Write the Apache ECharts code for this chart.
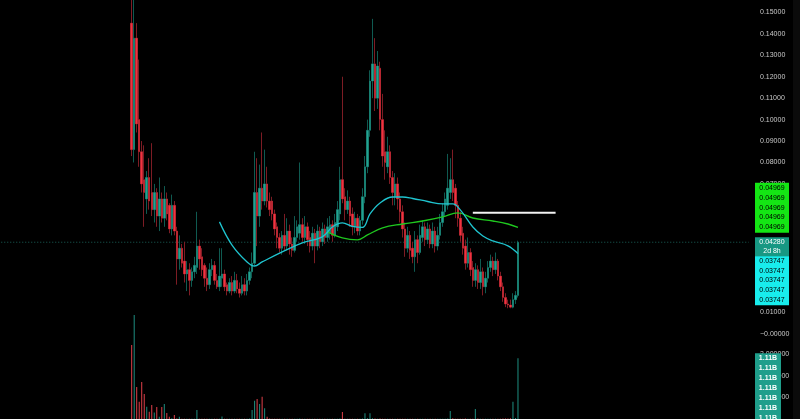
<!DOCTYPE html>
<html><head><meta charset="utf-8">
<script src="https://cdn.jsdelivr.net/npm/echarts@6/dist/echarts.min.js"></script>
<style>html,body{margin:0;padding:0;background:#000;overflow:hidden}#c{width:800px;height:419px;}</style>
</head><body><div id="c"></div>
<script>
// ---- data ----
const candleOpen = [
.145,.086,.138,.100,.085,.072,.063,.073,.066,.058,
.066,.055,.063,.054,.063,.060,.049,.060,.048,.035,
.040,.034,.028,.030,.025,.029,.031,.041,.036,.032,
.026,.023,.030,.032,.025,.022,.026,.028,.023,.020,
.024,.020,.025,.021,.019,.023,.020,.025,.029,.033,
.066,.055,.068,.062,.070,.062,.062,.056,.050,.045,
.040,.046,.041,.048,.042,.039,.045,.047,.051,.045,
.050,.045,.041,.047,.041,.048,.043,.049,.045,.047,
.051,.046,.050,.056,.072,.064,.058,.062,.056,.050,
.054,.048,.053,.064,.078,.095,.118,.126,.110,.124,
.100,.085,.078,.085,.073,.064,.070,.063,.057,.049,
.040,.046,.040,.036,.044,.038,.045,.050,.044,.049,
.042,.048,.041,.046,.052,.057,.060,.066,.072,.068,
.060,.054,.047,.041,.033,.038,.031,.025,.030,.024,
.029,.022,.026,.031,.034,.030,.034,.027,.022,.017,
.014,.0135,.0125,.016,.018];
const candleClose = [
.086,.138,.098,.085,.070,.066,.073,.062,.058,.066,
.055,.063,.054,.063,.056,.049,.060,.048,.035,.040,
.033,.028,.030,.025,.029,.032,.041,.035,.030,.026,
.023,.030,.032,.025,.022,.027,.028,.022,.020,.024,
.020,.025,.021,.019,.023,.020,.025,.029,.033,.066,
.055,.068,.062,.070,.062,.058,.056,.049,.045,.040,
.046,.041,.048,.042,.039,.045,.050,.051,.045,.050,
.044,.041,.047,.041,.048,.043,.049,.045,.050,.051,
.046,.052,.058,.072,.063,.058,.062,.055,.050,.054,
.048,.053,.064,.078,.095,.118,.126,.110,.125,.100,
.083,.080,.085,.073,.066,.070,.063,.057,.049,.040,
.046,.039,.036,.044,.038,.046,.050,.044,.049,.042,
.048,.041,.046,.052,.057,.063,.068,.072,.066,.060,
.054,.046,.040,.033,.038,.030,.025,.030,.024,.029,
.022,.026,.031,.034,.030,.034,.027,.022,.017,.014,
.0135,.0125,.016,.018,.0428];
const candleHigh = [
.158,.160,.145,.128,.090,.088,.076,.082,.089,.070,
.068,.073,.066,.069,.066,.061,.065,.062,.050,.046,
.042,.043,.034,.033,.031,.036,.057,.044,.040,.033,
.031,.033,.035,.034,.028,.040,.040,.030,.024,.026,
.027,.029,.028,.024,.027,.026,.028,.031,.038,.085,
.082,.079,.094,.086,.078,.066,.064,.058,.052,.047,
.048,.056,.054,.051,.045,.055,.053,.080,.054,.055,
.052,.048,.050,.049,.051,.050,.052,.051,.054,.055,
.053,.056,.062,.078,.120,.068,.067,.064,.059,.057,
.056,.055,.068,.083,.100,.123,.147,.138,.132,.127,
.112,.095,.092,.088,.076,.075,.073,.066,.060,.052,
.050,.048,.043,.048,.046,.051,.053,.052,.052,.051,
.052,.050,.050,.056,.061,.066,.084,.082,.086,.070,
.062,.057,.050,.044,.045,.040,.034,.033,.032,.035,
.031,.029,.034,.037,.036,.038,.035,.029,.024,.019,
.016,.016,.019,.020,.0435];
const candleLow = [
.083,.080,.094,.078,.066,.050,.056,.058,.055,.052,
.050,.048,.052,.050,.053,.047,.046,.046,.023,.030,
.031,.024,.020,.018,.022,.026,.028,.030,.027,.022,
.020,.021,.027,.023,.021,.020,.022,.020,.018,.019,
.018,.019,.019,.017,.018,.018,.018,.023,.026,.032,
.041,.050,.058,.060,.059,.055,.053,.046,.040,.038,
.037,.039,.039,.037,.036,.038,.043,.044,.043,.042,
.041,.038,.039,.033,.039,.040,.041,.042,.043,.044,
.043,.045,.048,.053,.061,.053,.056,.050,.046,.047,
.046,.046,.051,.061,.075,.092,.110,.104,.105,.095,
.078,.072,.075,.070,.060,.060,.058,.052,.045,.036,
.038,.035,.033,.029,.033,.037,.043,.041,.042,.040,
.040,.038,.039,.044,.050,.055,.058,.063,.062,.054,
.050,.043,.037,.030,.031,.027,.022,.022,.021,.021,
.018,.019,.024,.029,.027,.028,.025,.020,.015,.0125,
.012,.012,.012,.014,.017];
const volume = [
3.44,4.84,1.49,0.80,1.72,1.16,0.57,0.34,0.65,0.30,
0.56,0.10,0.56,0.70,0.28,0.11,0.03,0.19,0.02,0.10,
0.01,0.01,0.01,0.01,0.01,0.01,0.42,0.01,0.01,0.01,
0.01,0.01,0.01,0.01,0.01,0.01,0.12,0.01,0.01,0.01,
0.01,0.01,0.01,0.01,0.01,0.01,0.01,0.02,0.42,0.85,
0.93,0.70,1.04,0.50,0.10,0.02,0.01,0.01,0.01,0.01,
0.01,0.01,0.01,0.01,0.01,0.01,0.01,0.02,0.01,0.01,
0.01,0.01,0.01,0.01,0.01,0.01,0.01,0.01,0.01,0.01,
0.01,0.01,0.01,0.02,0.32,0.01,0.01,0.01,0.01,0.01,
0.01,0.01,0.02,0.27,0.03,0.27,0.03,0.02,0.01,0.02,
0.01,0.01,0.01,0.01,0.01,0.01,0.01,0.01,0.01,0.01,
0.01,0.01,0.01,0.01,0.01,0.01,0.01,0.01,0.01,0.01,
0.01,0.01,0.01,0.01,0.01,0.01,0.02,0.37,0.03,0.01,
0.01,0.01,0.01,0.02,0.01,0.01,0.01,0.47,0.02,0.01,
0.01,0.01,0.01,0.01,0.01,0.01,0.01,0.01,0.02,0.02,
0.02,0.03,0.80,0.05,2.83];
// moving averages: [candle index, value]
const maCyan = [[35,.0523],[40,.0415],[46,.0336],[49,.0317],[52,.0336],[60,.0383],[68,.0425],[76,.0453],
  [80,.0499],[84,.0518],[88,.0502],[92,.0497],[95,.0560],[99,.0611],[104,.0639],[108,.0639],[112,.0632],
  [118,.0618],[124,.0607],[128,.0607],[131,.0579],[136,.0499],[140,.0457],[144,.0434],[150,.0411],[154,.03747]];
const maGreen = [[78,.0476],[84,.0448],[90,.0439],[94,.0462],[100,.0495],[108,.0513],[116,.0527],[124,.0546],
  [130,.0565],[136,.0541],[144,.0527],[150,.0513],[154,.04969]];
const levelLine = {from:136, to:169, value:0.0565};
const lastPrice = 0.0428, lastPriceCountdown = '2d 8h';
const maGreenLabel = '0.04969', maCyanLabel = '0.03747', volumeLabel = '1.11B';
const priceMin = -0.01, priceMax = 0.1558, priceStep = 0.01;
const volMin = 0, volMax = 6, volStep = 1;

// ---- layout of slots ----
const slotCount = 299, firstSlot = 52;
const slots = Array.from({length: slotCount}, (_, i) => String(i));
const pad = arr => { const out = new Array(slotCount).fill('-'); arr.forEach((v,k)=>{ out[firstSlot+k] = v; }); return out; };

const UP = '#22a291', DOWN = '#f2323f', UPW = '#0f5a51', DOWNW = '#7d1c24';
const wickData = pad(candleOpen.map((o,k)=>[o, candleClose[k], candleLow[k], candleHigh[k]]));
const bodyData = pad(candleOpen.map((o,k)=>[o, candleClose[k], Math.min(o,candleClose[k]), Math.max(o,candleClose[k])]));
const volData = pad(volume.map((v,k)=>({value:v, itemStyle:{color: candleClose[k] >= candleOpen[k] ? '#1e8e80' : '#e0404a'}})));

const chart = echarts.init(document.getElementById('c'), null, {renderer:'canvas'});
const font = 'Liberation Sans';
const priceFmt = v => {
  if (v < -0.005) return '';
  const r = Math.round(v / priceStep);
  if (Math.abs(v / priceStep - r) > 1e-6) return '';
  if (r === 0) return '\u22120.00000';
  return (r * priceStep).toFixed(5);
};
chart.setOption({
  backgroundColor: '#000',
  animation: false,
  grid: [
    {left: 0, right: 50, top: 0, height: 355.4, containLabel: false},
    {left: 0, right: 50, top: 290, bottom: 0, containLabel: false}
  ],
  xAxis: [
    {type:'category', data: slots, gridIndex:0, show:false, boundaryGap:true},
    {type:'category', data: slots, gridIndex:1, show:false, boundaryGap:true}
  ],
  yAxis: [
    {type:'value', gridIndex:0, position:'right', min:priceMin, max:priceMax, interval:priceStep,
      axisLine:{show:false}, axisTick:{show:false}, splitLine:{show:false},
      axisLabel:{color:'#c8c8c8', fontSize:7, fontFamily:font, margin:10, formatter: priceFmt, showMinLabel:true, showMaxLabel:false}},
    {type:'value', gridIndex:1, position:'right', min:volMin, max:volMax, interval:volStep,
      axisLine:{show:false}, axisTick:{show:false}, splitLine:{show:false},
      axisLabel:{color:'#c8c8c8', fontSize:7, fontFamily:font, margin:10,
        formatter: v => (v >= 1 && v <= 3) ? v.toFixed(6) : ''}}
  ],
  series: [
    {type:'bar', xAxisIndex:1, yAxisIndex:1, data: volData, barWidth:1, silent:true, z:1},
    {type:'line', xAxisIndex:0, yAxisIndex:0, data: [[0, lastPrice],[slotCount-1, lastPrice]],
      showSymbol:false, silent:true, z:1, lineStyle:{color:'#1b625a', type:[1,2], width:1}},
    {type:'candlestick', xAxisIndex:0, yAxisIndex:0, data: wickData, barWidth:2, silent:true, z:2,
      itemStyle:{color:UPW, color0:DOWNW, borderColor:UPW, borderColor0:DOWNW, borderWidth:1}},
    {type:'candlestick', xAxisIndex:0, yAxisIndex:0, data: bodyData, barWidth:2, silent:true, z:3,
      itemStyle:{color:UP, color0:DOWN, borderColor:UP, borderColor0:DOWN, borderWidth:0}},
    {type:'line', xAxisIndex:0, yAxisIndex:0, data: maGreen.map(p=>[firstSlot+p[0], p[1]]), smooth:0.4,
      showSymbol:false, silent:true, z:4, lineStyle:{color:'#1fc81f', width:1.3}},
    {type:'line', xAxisIndex:0, yAxisIndex:0, data: maCyan.map(p=>[firstSlot+p[0], p[1]]), smooth:0.4,
      showSymbol:false, silent:true, z:4, lineStyle:{color:'#1fc4cf', width:1.3}},
    {type:'line', xAxisIndex:0, yAxisIndex:0,
      data: [[firstSlot+levelLine.from, levelLine.value],[firstSlot+levelLine.to, levelLine.value]],
      showSymbol:false, silent:true, z:5, lineStyle:{color:'#f2f2f2', width:2}}
  ]
});

// ---- right-hand value tags, placed through the axes ----
const yOf = (axis, v) => chart.convertToPixel({yAxisIndex: axis}, v);
function tag(x, top, w, rowH, rows, bg, fg, bold) {
  const children = [{type:'rect', z:100, zlevel:1, shape:{x:x, y:top, width:w, height:rowH*rows.length + 0.5}, style:{fill:bg}}];
  rows.forEach((t,i)=>children.push({type:'text', z:101, zlevel:1, style:{text:t, x:x + w/2, y: top + rowH*i + rowH/2,
    align:'center', verticalAlign:'middle', fill:fg, font:(bold?'bold ':'') + '7px "Liberation Sans"'}}));
  return {type:'group', z:100, zlevel:1, children};
}
const yG = yOf(0, parseFloat(maGreenLabel));
const yL = yOf(0, lastPrice);
const yV = yOf(1, volume[volume.length-1]);
const tealTop = yL - 5, tealH = 9.5;
chart.setOption({graphic: [
  {type:'rect', z:90, zlevel:1, shape:{x:793, y:0, width:7, height:419}, style:{fill:'#0b0b0b'}},
  tag(755, yG - 4*9.9 - 5, 34, 9.9, Array(5).fill(maGreenLabel), '#14e614', '#000', false),
  tag(755, tealTop, 34, tealH, [lastPrice.toFixed(5), lastPriceCountdown], '#179883', '#fff', false),
  tag(755, tealTop + 2*tealH, 34, 9.7, Array(5).fill(maCyanLabel), '#18ecec', '#000', false),
  tag(755, yV - 5, 26, 10, Array(7).fill(volumeLabel), '#1f9e8b', '#fff', true)
]});
</script></body></html>
